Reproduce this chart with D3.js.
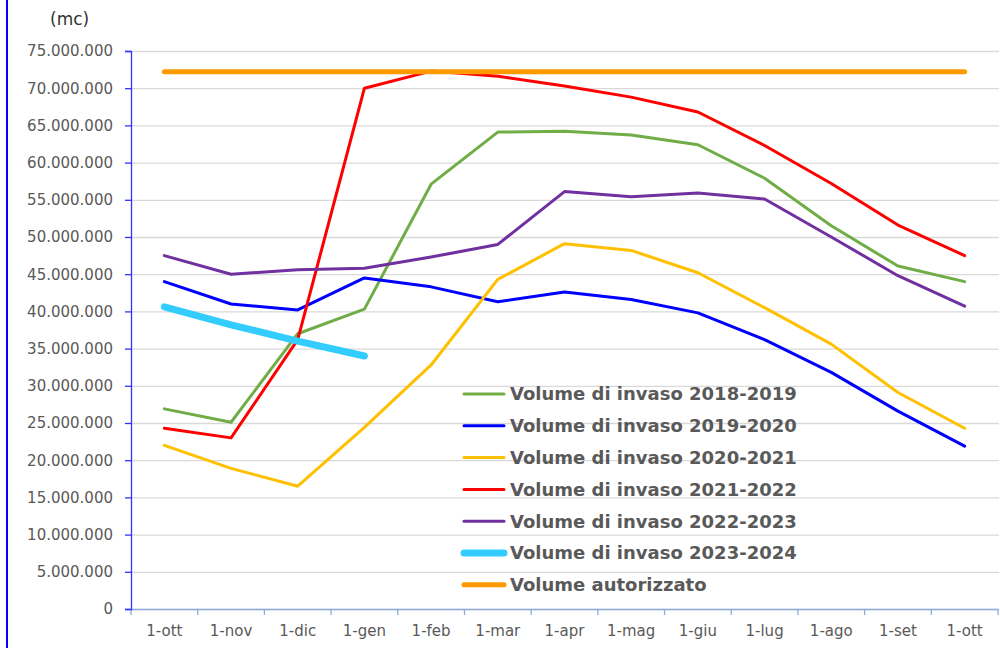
<!DOCTYPE html>
<html>
  <head>
    <meta charset="utf-8">
    <title>Volume di invaso</title>
    <script src="https://d3js.org/d3.v7.min.js"></script>
    <style>
      body { margin: 0; background: #fff; }
      .tick text { font-family: "DejaVu Sans", sans-serif; font-size: 15px; fill: #595959; }
      .legend text { font-family: "DejaVu Sans", sans-serif; font-weight: bold; font-size: 18px; fill: #595959; }
      .plot { fill: none; stroke-linejoin: round; stroke-linecap: round; }
    </style>
  </head>
  <body>
    <svg id="chart" width="1000" height="648"></svg>
    <script>
      // chart data (mc)
      months = ["1-ott", "1-nov", "1-dic", "1-gen", "1-feb", "1-mar", "1-apr", "1-mag", "1-giu", "1-lug", "1-ago", "1-set", "1-ott "];
      v2018 = [26.9, 25.1, 37.0, 40.3, 57.1, 64.1, 64.2, 63.7, 62.4, 57.9, 51.5, 46.1, 44.0];
      v2019 = [44.0, 41.0, 40.2, 44.5, 43.3, 41.3, 42.6, 41.6, 39.8, 36.2, 31.8, 26.6, 21.9];
      v2020 = [22.0, 18.9, 16.5, 24.4, 32.8, 44.3, 49.1, 48.2, 45.2, 40.5, 35.6, 29.1, 24.3];
      v2021 = [24.3, 23.0, 36.2, 70.0, 72.3, 71.6, 70.3, 68.8, 66.8, 62.3, 57.2, 51.6, 47.5];
      v2022 = [47.5, 45.0, 45.6, 45.8, 47.3, 49.0, 56.1, 55.4, 55.9, 55.1, 50.0, 44.8, 40.7];
      v2023 = [40.6, 38.2, 36.0, 34.0];
      authorized = [72.2, 72.2, 72.2, 72.2, 72.2, 72.2, 72.2, 72.2, 72.2, 72.2, 72.2, 72.2, 72.2];
      yTicks = [0, 5, 10, 15, 20, 25, 30, 35, 40, 45, 50, 55, 60, 65, 70, 75];

      series = [
        { name: "Volume di invaso 2018-2019", values: v2018, color: "#70ad47", width: 3 },
        { name: "Volume di invaso 2019-2020", values: v2019, color: "#0000ff", width: 3 },
        { name: "Volume di invaso 2020-2021", values: v2020, color: "#ffc000", width: 3 },
        { name: "Volume di invaso 2021-2022", values: v2021, color: "#ff0000", width: 3 },
        { name: "Volume di invaso 2022-2023", values: v2022, color: "#7030a0", width: 3 },
        { name: "Volume di invaso 2023-2024", values: v2023, color: "#33ccff", width: 7 },
        { name: "Volume autorizzato", values: authorized, color: "#ff9900", width: 5 }
      ];

      margin = { top: 51, right: 1, bottom: 39, left: 131 };
      width = 1000;
      height = 648;
      chart = d3.select("#chart");

      // page border
      chart.append("line")
        .attr("x1", 7).attr("x2", 7)
        .attr("y1", 0).attr("y2", height)
        .attr("stroke", "#0000ff")
        .attr("stroke-width", 2);

      chart.append("text")
        .attr("x", 50)
        .attr("y", 25)
        .style("font-family", "DejaVu Sans, sans-serif")
        .style("font-size", "17px")
        .style("fill", "#333")
        .text("(mc)");

      x = d3.scaleBand()
        .domain(months)
        .range([margin.left, width - margin.right - 1])
        .padding(0);
      y = d3.scaleLinear()
        .domain([0, 75])
        .range([height - margin.bottom, margin.top]);

      // gridlines
      chart.append("g")
        .attr("transform", "translate(" + margin.left + ", 0)")
        .call(d3.axisLeft(y).tickValues(yTicks).tickSize(margin.left + margin.right - width).tickFormat(""))
        .call(function(g) {
          g.select(".domain").remove();
          g.selectAll("line").attr("stroke", "#d9d9d9").attr("stroke-width", 1.3);
        });

      // x axis
      xAxisGroup = chart.append("g")
        .attr("transform", "translate(0, " + y(0) + ")")
        .call(d3.axisBottom(x).tickSize(0).tickPadding(16).tickSizeOuter(0));
      xAxisGroup.select(".domain").attr("stroke", "#8faadc").attr("stroke-width", 1.3);
      xAxisGroup.selectAll(".tick text").text(function(d) { return d.trim(); });
      xAxisGroup.selectAll(".boundary")
        .data(months.map(function(d) { return x(d); }).concat([x.range()[1]]))
        .join("line")
          .attr("class", "boundary")
          .attr("x1", function(d) { return d; })
          .attr("x2", function(d) { return d; })
          .attr("y1", 0)
          .attr("y2", 6)
          .attr("stroke", "#8faadc")
          .attr("stroke-width", 1.3);

      // y axis
      yAxisGroup = chart.append("g")
        .attr("transform", "translate(" + margin.left + ", 0)")
        .call(d3.axisLeft(y)
          .tickValues(yTicks)
          .tickSizeInner(6)
          .tickSizeOuter(6)
          .tickPadding(12)
          .tickFormat(function(d) { return d === 0 ? "0" : d3.format(",")(d * 1e6).replace(/,/g, "."); }));
      yAxisGroup.selectAll("line").attr("stroke", "#3333ff").attr("stroke-width", 1.3);
      yAxisGroup.select(".domain").attr("stroke", "#3333ff").attr("stroke-width", 1.3);

      // lines
      line = d3.line()
        .x(function(d, i) { return x(months[i]) + x.bandwidth() / 2; })
        .y(function(d) { return y(d); });
      chart.append("g")
        .selectAll("path")
        .data(series)
        .join("path")
          .attr("class", "plot")
          .attr("d", function(s) { return line(s.values); })
          .attr("stroke", function(s) { return s.color; })
          .attr("stroke-width", function(s) { return s.width; });

      // legend
      legend = chart.append("g")
        .attr("class", "legend")
        .attr("transform", "translate(462, 394)");
      rows = legend.selectAll("g")
        .data(series)
        .join("g")
          .attr("transform", function(d, i) { return "translate(0, " + (i * 31.8) + ")"; });
      rows.append("line")
        .attr("x1", 2).attr("x2", 42)
        .attr("stroke", function(s) { return s.color; })
        .attr("stroke-width", function(s) { return s.width; })
        .attr("stroke-linecap", "round");
      rows.append("text")
        .attr("x", 48)
        .attr("dy", "0.35em")
        .text(function(s) { return s.name; });
    </script>
  </body>
</html>
